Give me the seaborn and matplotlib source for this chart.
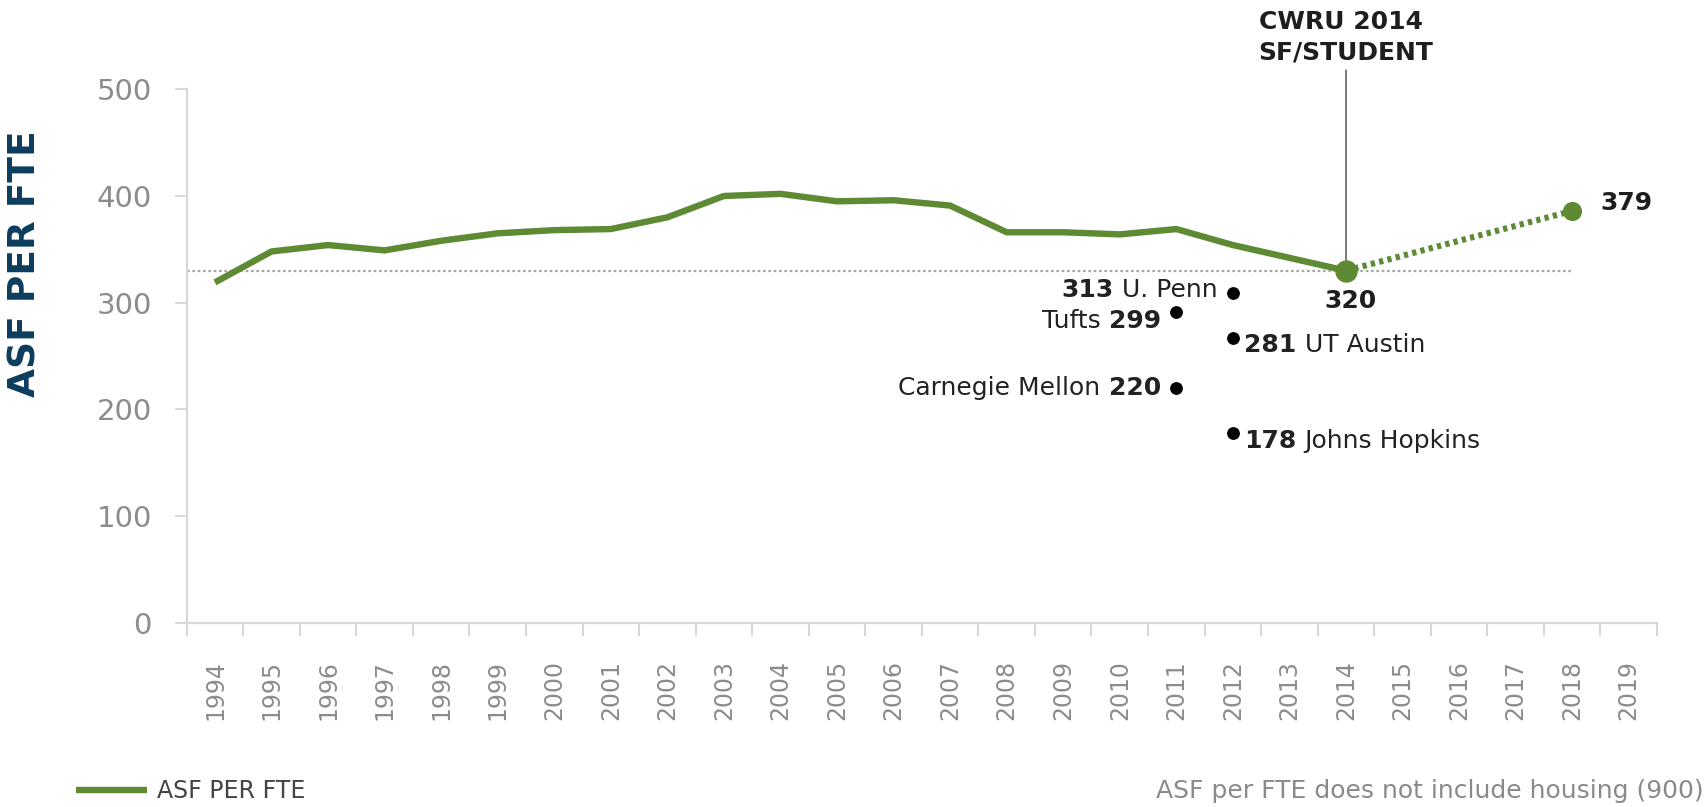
import matplotlib
matplotlib.use("Agg")
import matplotlib.pyplot as plt
import seaborn as sns
import numpy as np

# ---------------- data ----------------
years = list(range(1994, 2015))
asf = [319, 348, 354, 349, 358, 365, 368, 369, 380, 400, 402,
       395, 396, 391, 366, 366, 364, 369, 354, 342, 330]
proj_years = [2014, 2018]
proj_vals = [330, 386]
proj_labels = ["320", "379"]

peer_years = [2012, 2011, 2012, 2011, 2012]
peer_vals = [309, 291, 267, 220, 178]
peer_nums = ["313", "299", "281", "220", "178"]
peer_names = ["U. Penn", "Tufts", "UT Austin", "Carnegie Mellon", "Johns Hopkins"]
peer_side = ["left", "left", "right", "left", "right"]
peer_num_first = [True, False, True, False, True]

tick_years = list(range(1994, 2020))
yticks = [0, 100, 200, 300, 400, 500]

series_label = "ASF PER FTE"
ylabel = "ASF PER FTE"
callout = "CWRU 2014\nSF/STUDENT"
footnote = "ASF per FTE does not include housing (900)"

# label vertical nudges (points), style only
peer_dy = [2, -6, -5, 0, -6]

# ---------------- style ----------------
sns.set_theme(style="white")
plt.rcParams["font.family"] = ["DejaVu Sans"]

green = "#5e8a34"
axis_gray = "#d8d8d8"
tick_gray = "#8c8c8c"
navy = "#0d3d5e"
dark = "#1e1e1e"

fig = plt.figure(figsize=(17.07, 8.07), dpi=100)
ax = fig.add_axes([186.7 / 1707, 1 - 622.7 / 807, (1657 - 186.7) / 1707, (622.7 - 89.3) / 807])

# main line
sns.lineplot(x=years, y=asf, color=green, linewidth=4.6, ax=ax, label=series_label,
             solid_capstyle="butt", solid_joinstyle="round")
# projection
sns.lineplot(x=proj_years, y=proj_vals, color=green, linewidth=4.4, ax=ax,
             linestyle=(0, (0.7, 0.7)), legend=False)
# reference dotted line at 2014 level
ax.plot([tick_years[0] - 0.5, proj_years[1]], [proj_vals[0], proj_vals[0]],
        color="#a8a8a8", linewidth=1.6, linestyle=(0, (1.2, 1.2)), zorder=1)
# vertical callout line
ax.plot([proj_years[0], proj_years[0]], [proj_vals[0], 518], color="#555555",
        linewidth=1.1, clip_on=False, zorder=2)

# markers
sns.scatterplot(x=[proj_years[0]], y=[proj_vals[0]], color=green, s=260,
                linewidth=0, ax=ax, zorder=5, legend=False)
sns.scatterplot(x=[proj_years[1]], y=[proj_vals[1]], color=green, s=190,
                linewidth=0, ax=ax, zorder=5, legend=False)
sns.scatterplot(x=peer_years, y=peer_vals, color="black", s=85, linewidth=0,
                ax=ax, zorder=5, legend=False)

# value labels for CWRU
ax.annotate(proj_labels[0], xy=(proj_years[0], proj_vals[0]), xytext=(3, -22),
            textcoords="offset points", ha="center", va="center",
            fontsize=18, fontweight="bold", color=dark)
ax.annotate(proj_labels[1], xy=(proj_years[1], proj_vals[1]), xytext=(20, 6),
            textcoords="offset points", ha="left", va="center",
            fontsize=18, fontweight="bold", color=dark)

ax.text(proj_years[0], 549, callout, ha="center", va="center", multialignment="left",
        fontsize=18, fontweight="bold", color=dark, linespacing=1.35)

# peer labels
FS = 18
for yr, v, num, name, side, nf, dy in zip(peer_years, peer_vals, peer_nums, peer_names,
                                          peer_side, peer_num_first, peer_dy):
    segs = [(num, "bold"), (name, "normal")] if nf else [(name, "normal"), (num, "bold")]
    if side == "left":
        txt, w = segs[-1]
        prev = ax.annotate(txt, xy=(yr, v), xytext=(-11, dy), textcoords="offset points",
                           ha="right", va="center", fontsize=FS, fontweight=w, color="#222222")
        for txt, w in reversed(segs[:-1]):
            prev = ax.annotate(txt, xy=(0, 0), xycoords=prev, xytext=(-6, 0),
                               textcoords="offset points", ha="right", va="bottom",
                               fontsize=FS, fontweight=w, color="#222222")
    else:
        txt, w = segs[0]
        prev = ax.annotate(txt, xy=(yr, v), xytext=(8, dy), textcoords="offset points",
                           ha="left", va="center", fontsize=FS, fontweight=w, color="#222222")
        for txt, w in segs[1:]:
            prev = ax.annotate(txt, xy=(1, 0), xycoords=prev, xytext=(6, 0),
                               textcoords="offset points", ha="left", va="bottom",
                               fontsize=FS, fontweight=w, color="#222222")

# axes
ax.set_xlim(tick_years[0] - 0.5, tick_years[-1] + 0.5)
ax.set_ylim(0, 500)
ax.set_xticks(tick_years)
ax.set_xticklabels([str(y) for y in tick_years], rotation=90)
ax.set_xticks(np.arange(tick_years[0] - 0.5, tick_years[-1] + 1.0, 1.0), minor=True)
ax.set_yticks(yticks)
ax.set_yticklabels([str(t) for t in yticks])
ax.tick_params(axis="x", which="major", length=0, pad=27, labelsize=17, labelcolor=tick_gray)
ax.tick_params(axis="x", which="minor", length=9, width=1.5, color=axis_gray, direction="out")
ax.tick_params(axis="y", which="major", length=9, width=1.5, color=axis_gray, direction="out",
               pad=16, labelsize=21, labelcolor=tick_gray)
ax.xaxis.set_ticks_position("bottom")
ax.yaxis.set_ticks_position("left")
for s in ["top", "right"]:
    ax.spines[s].set_visible(False)
for s in ["left", "bottom"]:
    ax.spines[s].set_color(axis_gray)
    ax.spines[s].set_linewidth(1.6)
ax.set_xlabel("")
ax.set_ylabel("")
ax.grid(False)

fig.text(26 / 1707, 1 - 264 / 807, ylabel, rotation=90, ha="center", va="center",
         fontsize=27, fontweight="bold", color=navy)

# legend
leg = ax.legend(loc="center left", bbox_to_anchor=(76 / 1707, 1 - 791 / 807),
                bbox_transform=fig.transFigure, frameon=False, fontsize=17,
                handlelength=3.0, handletextpad=0.45, borderaxespad=0, borderpad=0)
for t in leg.get_texts():
    t.set_color("#444444")

fig.text(0.998, 1 - 791 / 807, footnote, ha="right", va="center", fontsize=18, color="#8a8a8a")

fig.savefig("out.png", dpi=100)
